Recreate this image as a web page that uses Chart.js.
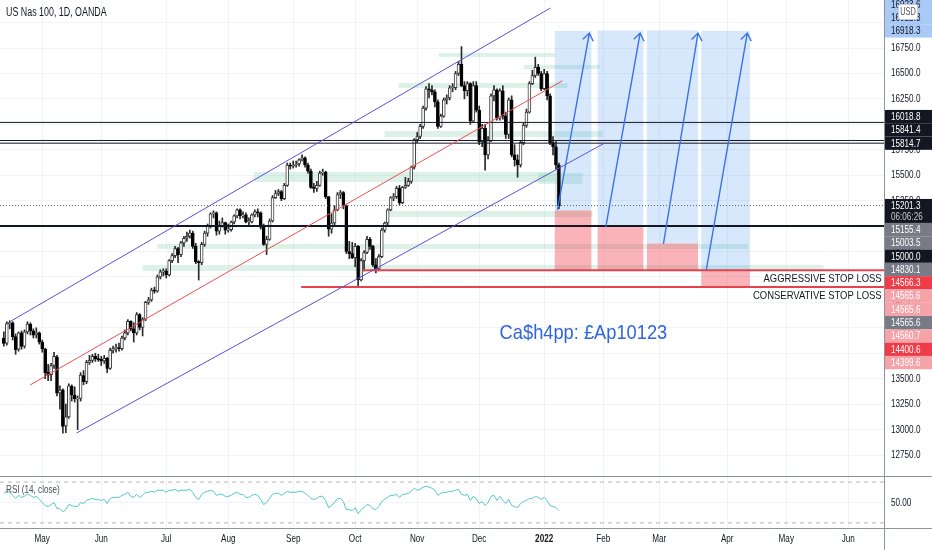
<!DOCTYPE html>
<html>
<head>
<meta charset="utf-8">
<title>US Nas 100, 1D, OANDA</title>
<script src="https://cdn.jsdelivr.net/npm/chart.js@4.4.1/dist/chart.umd.min.js"></script>
<style>
  body { margin: 0; background: #fff; }
  #wrap { width: 932px; height: 550px; }
</style>
</head>
<body>
<div id="wrap"><canvas id="chart" width="932" height="550"></canvas></div>
<script>
// daily bars, 14 Apr 2021 .. 10 Jan 2022 (x = bar number)
var opens = [13900,13850,14040,14050,13915,13790,13950,13820,13960,14035,
  13970,13930,13950,13860,13790,13565,13540,13630,13715,13360,
  13390,13035,13125,13425,13340,13300,13305,13530,13470,13660,
  13680,13720,13695,13690,13675,13700,13600,13780,13795,13800,
  13795,13900,13950,14065,13990,13950,14130,14005,14085,14250,
  14275,14370,14360,14500,14550,14555,14520,14660,14710,14780,
  14720,14835,14880,14900,14930,14800,14650,14640,14820,14930,
  15000,15120,15130,14950,15000,15035,14960,14965,15040,15100,
  15160,15100,15110,15040,15040,15110,15140,15130,14990,14820,
  14870,15050,15280,15320,15340,15270,15400,15600,15590,15600,
  15610,15650,15670,15600,15540,15380,15370,15400,15520,15530,
  15290,14970,15030,15160,15310,15330,15200,14750,14730,14690,
  14800,14470,14660,14740,14870,14800,14620,14580,14700,14960,
  15030,15160,15280,15290,15370,15230,15380,15400,15440,15580,
  15850,15880,15980,16160,16350,16340,16320,16220,15980,16080,
  16240,16260,16360,16360,16500,16590,16380,16330,16400,16030,
  16380,16140,15830,15960,15700,15840,16280,16340,16060,16330,
  16080,15900,16240,15700,15650,15600,15820,15990,16120,16400,
  16480,16560,16500,16350,16500,16280,15820,15780,15600];
var highs = [13960,14060,14070,14060,13940,13960,13970,13980,14060,14050,
  13990,14000,13960,13880,13800,13640,13650,13760,13730,13430,
  13400,13250,13450,13440,13420,13330,13560,13580,13680,13730,
  13740,13750,13740,13720,13730,13710,13800,13820,13840,13850,
  13920,13980,14080,14070,14050,14150,14140,14100,14260,14300,
  14390,14400,14520,14570,14580,14580,14670,14730,14800,14790,
  14850,14900,14940,14960,14950,14830,14660,14840,14950,15020,
  15130,15150,15140,15050,15080,15040,15020,15050,15110,15170,
  15170,15140,15130,15080,15120,15160,15170,15140,15020,14900,
  15070,15300,15350,15360,15350,15420,15620,15620,15640,15640,
  15660,15700,15680,15620,15560,15420,15440,15540,15560,15540,
  15290,15120,15200,15330,15350,15340,15210,14850,14840,14830,
  14810,14680,14760,14900,14890,14810,14680,14720,14980,15040,
  15170,15290,15320,15390,15400,15390,15480,15470,15590,15860,
  15920,16000,16180,16370,16400,16380,16340,16240,16100,16260,
  16290,16380,16400,16520,16620,16764,16420,16420,16410,16420,
  16420,16180,16000,16000,15880,16300,16380,16350,16350,16380,
  16120,16260,16280,15800,15700,15840,16010,16150,16420,16530,
  16660,16590,16520,16540,16520,16300,15880,15830,15620];
var lows = [13820,13830,13990,13880,13740,13770,13790,13800,13940,13930,
  13900,13900,13840,13760,13500,13480,13480,13600,13330,13200,
  12965,12970,13110,13280,13270,13000,13280,13440,13450,13640,
  13660,13670,13670,13630,13650,13560,13590,13750,13760,13770,
  13780,13880,13930,13970,13860,13930,13980,13920,14070,14230,
  14260,14340,14350,14480,14510,14490,14510,14640,14690,14640,
  14700,14800,14850,14880,14780,14630,14470,14620,14800,14900,
  14980,15080,14910,14920,14990,14920,14940,14950,15020,15080,
  15070,15080,15030,15010,15030,15090,15090,14970,14810,14720,
  14860,15040,15270,15300,15250,15260,15390,15560,15570,15580,
  15590,15640,15580,15520,15370,15330,15340,15390,15500,15270,
  14900,14930,15010,15150,15270,15170,14730,14680,14680,14600,
  14400,14460,14560,14730,14770,14600,14540,14560,14690,14940,
  15000,15150,15250,15270,15210,15220,15370,15390,15420,15560,
  15820,15860,15960,16140,16260,16290,16170,15960,15970,16070,
  16200,16240,16320,16340,16480,16370,16250,16280,16000,16020,
  16120,15800,15780,15550,15660,15830,16230,16040,16040,16050,
  15860,15860,15680,15590,15480,15580,15800,15970,16110,16390,
  16460,16480,16330,16340,16240,15800,15700,15560,15170];
var closes = [13846,14041,14052,13914,13786,13950,13818,13960,14038,13969,
  13928,13950,13860,13795,13560,13535,13630,13720,13359,13389,
  13032,13125,13430,13340,13303,13300,13535,13470,13661,13680,
  13720,13696,13687,13673,13700,13600,13780,13795,13800,13795,
  13900,13950,14065,13990,13950,14130,14005,14085,14250,14275,
  14370,14360,14500,14550,14555,14520,14660,14710,14780,14720,
  14835,14880,14900,14930,14800,14650,14640,14820,14930,15000,
  15120,15130,14950,15000,15035,14960,14965,15040,15100,15160,
  15100,15110,15040,15040,15110,15140,15130,14990,14820,14870,
  15050,15280,15320,15340,15270,15400,15600,15590,15600,15610,
  15650,15670,15600,15540,15380,15370,15400,15520,15530,15290,
  14970,15030,15160,15310,15330,15200,14750,14730,14690,14800,
  14470,14660,14740,14870,14800,14620,14580,14700,14960,15030,
  15160,15280,15290,15370,15230,15380,15400,15440,15580,15850,
  15880,15980,16160,16350,16340,16320,16220,15980,16080,16240,
  16260,16360,16360,16500,16590,16380,16330,16400,16030,16380,
  16140,15830,15960,15700,15840,16280,16340,16060,16330,16080,
  15900,16240,15700,15650,15600,15820,15990,16120,16400,16480,
  16560,16500,16350,16500,16280,15820,15780,15600,15201.3];
// RSI (14, close)
var rsi = [59,61,60,57,54,57,55,56,58,57,
  55,56,53,50,47,46,48,50,44,44,
  41,43,48,47,46,46,50,49,52,53,
  54,53,53,52,53,49,54,55,55,55,
  57,58,60,56,55,58,55,57,60,60,
  61,60,62,62,62,60,62,62,63,61,
  62,62,62,63,60,55,53,58,60,61,
  62,61,57,58,58,56,56,57,59,60,
  58,58,55,55,57,58,57,53,48,50,
  54,58,59,59,57,59,61,60,60,60,
  61,61,59,57,54,53,54,56,56,52,
  45,47,50,54,54,51,43,43,42,45,
  39,43,45,48,47,44,43,46,51,53,
  55,57,57,58,55,58,58,59,61,64,
  62,63,65,66,65,64,62,57,59,60,
  60,61,61,62,63,58,57,58,52,56,
  54,49,51,47,50,56,57,52,56,52,
  49,53,47,46,45,49,51,52,54,54,
  56,55,53,55,52,47,46,45,42];

// time axis: bar number of each month's first session
var monthIdx = [13,33,55,76,98,119,140,161,183,203,222,245,265,286];
var monthLbl = ['May','Jun','Jul','Aug','Sep','Oct','Nov','Dec','2022','Feb','Mar','Apr','May','Jun'];
var priceTicks = [12750,13000,13250,13500,13750,14000,14250,14500,14750,15000,15250,15500,15750,16000,16250,16500,16750,17000];
var xMin = -1.3, xMax = 298.1;
var yMin = 12534, yMax = 17222;
var rsiMin = 25, rsiMax = 75, rsiLevels = [70, 30], rsiTicks = [50];

// drawings on the chart
var channelTop = [[2.45,14067],[185.1,17143]];
var channelMid = [[8.9,13438],[189.2,16429]];
var channelLow = [[24.6,12966],[203.5,15816]];
var blackLevels = [16018.8, 15841.4, 15814.7];
var keyLevel = 15000;
var lastPrice = 15201.3;
var countdown = '06:06:26';
var aggressiveStop = [121.7, 14566.3];
var conservativeStop = [100.7, 14400.6];

// long positions: start bar, end bar, entry, stop, target
var posStart = [186.6, 201.1, 217.8, 236.2];
var posEnd = [199.0, 216.6, 235.1, 252.7];
var posEntry = [15155.4, 15003.5, 14830.1, 14565.6];
var posStop = [14565.6, 14565.6, 14560.7, 14399.6];
var posTarget = [16918.3, 16922.3, 16923.6, 16918.3];
var arrowFrom = [[187.5,15158],[203.9,14994],[223.4,14824],[237.9,14568]];
var arrowTo = [[198.3,16897],[215.5,16897],[235.1,16897],[251.8,16897]];

// light green zones: start bar, end bar, low, high
var zoneStart = [147.3,176,133.7,129,84.8,181,130.3,52.1,47];
var zoneEnd = [186.8,201.8,190.9,202.8,186.5,196,199.4,252.1,277.6];
var zoneLow = [16662,16544,16357,15875,15433,15413,15089,14775,14558];
var zoneHigh = [16701,16583,16406,15934,15531,15522,15148,14824,14617];

// text notes
var noteText = 'Ca$h4pp: £Ap10123';
var noteAt = [196.3, 13949];
var stopText = ['AGGRESSIVE STOP LOSS', 'CONSERVATIVE STOP LOSS'];
var stopTextAt = [[297.3,14480],[297.3,14313]];

// price tags on the right scale
var tagPrice = [16923.6,16922.3,16918.3,16018.8,15841.4,15814.7,15201.3,15155.4,15003.5,15000.0,14830.1,14566.3,14565.6,14565.6,14565.6,14560.7,14400.6,14399.6];
var tagKind = ['target','target','target','line','line','line','last','entry','entry','line','entry','stopLine','stop','stop','entry','stop','stopLine','stop'];

var FONT = '"Liberation Sans", Arial, sans-serif';
var SQ = 0.74;   // screenshot text is narrower than the font
var tagColors = {
  target: ['#a9c9f7', '#131722'],
  line: ['#131722', '#ffffff'],
  last: ['#131722', '#ffffff'],
  entry: ['#787b86', '#ffffff'],
  stopLine: ['#f03c48', '#ffffff'],
  stop: ['#f5a3a9', '#ffffff']
};

function seg(points, color, width, dash, axis) {
  return {
    type: 'line',
    data: points.map(function(p) { return {x: p[0], y: p[1]}; }),
    borderColor: color,
    borderWidth: width,
    borderDash: dash || [],
    pointRadius: 0,
    tension: 0,
    yAxisID: axis || 'y',
    order: 0
  };
}

// narrow text: draw with a horizontal squeeze
function text(ctx, str, x, y, sx, align) {
  ctx.save();
  ctx.translate(x, y);
  ctx.scale(sx, 1);
  ctx.textAlign = align || 'left';
  ctx.fillText(str, 0, 0);
  ctx.restore();
}

function layoutTags(ys) {
  var h = 13.3;
  var items = tagPrice.map(function(p, k) {
    return {p: p, k: tagKind[k], c: ys.getPixelForValue(p), h: tagKind[k] == 'last' ? 24 : h};
  });
  var above = items.filter(function(t) { return t.p > lastPrice; }).sort(function(a, b) { return a.p - b.p; });
  var below = items.filter(function(t) { return t.p <= lastPrice; }).sort(function(a, b) { return b.p - a.p; });
  // above the last price the stack grows upward, below it grows downward
  var prevTop = Infinity;
  above.forEach(function(t) {
    var top = t.c - h / 2;
    if (top + t.h > prevTop) top = prevTop - t.h;
    t.top = top; prevTop = top;
  });
  var prevBottom = -Infinity;
  below.forEach(function(t) {
    var top = t.c - h / 2;
    if (top < prevBottom) top = prevBottom;
    t.top = top; prevBottom = top + t.h;
  });
  return above.concat(below);
}

var drawings = {
  id: 'drawings',
  beforeDatasetsDraw: function(chart) {
    var ctx = chart.ctx, xs = chart.scales.x, ys = chart.scales.y, a = chart.chartArea;
    ctx.save();
    ctx.beginPath();
    ctx.rect(a.left, ys.top, a.right - a.left, ys.bottom - ys.top);
    ctx.clip();
    ctx.fillStyle = 'rgba(110,200,165,0.24)';
    for (var k = 0; k < zoneStart.length; k++) {
      var x0 = xs.getPixelForValue(zoneStart[k]), x1 = xs.getPixelForValue(zoneEnd[k]);
      var y0 = ys.getPixelForValue(zoneHigh[k]), y1 = ys.getPixelForValue(zoneLow[k]);
      ctx.fillRect(x0, y0, x1 - x0, y1 - y0);
    }
    for (var j = 0; j < posStart.length; j++) {
      var px0 = xs.getPixelForValue(posStart[j]), px1 = xs.getPixelForValue(posEnd[j]);
      var yt = ys.getPixelForValue(posTarget[j]), ye = ys.getPixelForValue(posEntry[j]), yst = ys.getPixelForValue(posStop[j]);
      ctx.fillStyle = 'rgba(41,130,240,0.18)';
      ctx.fillRect(px0, yt, px1 - px0, ye - yt);
      ctx.fillStyle = 'rgba(242,54,69,0.38)';
      ctx.fillRect(px0, ye, px1 - px0, yst - ye);
    }
    ctx.restore();
  },
  afterDatasetsDraw: function(chart) {
    var ctx = chart.ctx, xs = chart.scales.x, ys = chart.scales.y, a = chart.chartArea;
    ctx.save();
    ctx.beginPath();
    ctx.rect(a.left, ys.top, a.right - a.left, ys.bottom - ys.top);
    ctx.clip();
    // target arrows
    ctx.strokeStyle = '#3b72e6';
    ctx.lineWidth = 1.4;
    for (var k = 0; k < arrowFrom.length; k++) {
      var sx = xs.getPixelForValue(arrowFrom[k][0]), sy = ys.getPixelForValue(arrowFrom[k][1]);
      var tx = xs.getPixelForValue(arrowTo[k][0]), ty = ys.getPixelForValue(arrowTo[k][1]);
      var ang = Math.atan2(ty - sy, tx - sx);
      ctx.beginPath();
      ctx.moveTo(sx, sy); ctx.lineTo(tx, ty);
      ctx.moveTo(tx + 9 * Math.cos(ang + Math.PI - 0.62), ty + 9 * Math.sin(ang + Math.PI - 0.62));
      ctx.lineTo(tx, ty);
      ctx.lineTo(tx + 9 * Math.cos(ang + Math.PI + 0.62), ty + 9 * Math.sin(ang + Math.PI + 0.62));
      ctx.stroke();
    }
    // notes
    ctx.textBaseline = 'middle';
    ctx.fillStyle = '#2f66de';
    ctx.font = '21px ' + FONT;
    text(ctx, noteText, xs.getPixelForValue(noteAt[0]), ys.getPixelForValue(noteAt[1]), 0.87, 'center');
    ctx.fillStyle = '#131722';
    ctx.font = '11px ' + FONT;
    for (var s = 0; s < stopText.length; s++) {
      text(ctx, stopText[s], xs.getPixelForValue(stopTextAt[s][0]), ys.getPixelForValue(stopTextAt[s][1]), 0.86, 'right');
    }
    ctx.restore();
  },
  afterDraw: function(chart) {
    var ctx = chart.ctx, xs = chart.scales.x, ys = chart.scales.y, rs = chart.scales.rsi, W = chart.width, H = chart.height;
    ctx.save();
    ctx.textBaseline = 'middle';
    // scale labels
    ctx.fillStyle = '#131722';
    ctx.font = '11px ' + FONT;
    ys.ticks.forEach(function(t) {
      text(ctx, t.value.toFixed(1), ys.left + 7, ys.getPixelForValue(t.value), SQ, 'left');
    });
    rs.ticks.forEach(function(t) {
      text(ctx, t.value.toFixed(2), rs.left + 7, rs.getPixelForValue(t.value), SQ, 'left');
    });
    xs.ticks.forEach(function(t) {
      var lbl = monthLbl[monthIdx.indexOf(t.value)];
      ctx.font = (lbl == '2022' ? 'bold ' : '') + '11px ' + FONT;
      text(ctx, lbl, xs.getPixelForValue(t.value), xs.top + 11, SQ, 'center');
    });
    // pane separators and price scale border
    ctx.strokeStyle = '#8f939c';
    ctx.lineWidth = 1;
    ctx.beginPath();
    ctx.moveTo(0, Math.round(ys.bottom) - 0.5); ctx.lineTo(W, Math.round(ys.bottom) - 0.5);
    ctx.moveTo(0, Math.round(rs.bottom) + 0.5); ctx.lineTo(W, Math.round(rs.bottom) + 0.5);
    ctx.moveTo(Math.round(ys.left) + 0.5, 0); ctx.lineTo(Math.round(ys.left) + 0.5, H);
    ctx.stroke();
    // price tags
    var tags = layoutTags(ys);
    ctx.font = '11px ' + FONT;
    tags.forEach(function(t) {
      var col = tagColors[t.k];
      ctx.fillStyle = col[0];
      ctx.fillRect(ys.left + 1, t.top, W - ys.left - 1, t.h);
      ctx.fillStyle = col[1];
      text(ctx, t.p.toFixed(1), ys.left + 7, t.top + 7, SQ, 'left');
      if (t.k == 'last') {
        ctx.fillStyle = '#c8cbd3';
        text(ctx, countdown, ys.left + 7, t.top + 18, SQ, 'left');
      }
    });
    // currency badge
    ctx.fillStyle = '#ffffff';
    ctx.strokeStyle = '#c9ccd3';
    ctx.beginPath();
    ctx.roundRect(ys.left + 14.5, 4.5, 19, 15, 2);
    ctx.fill(); ctx.stroke();
    ctx.fillStyle = '#50535e';
    ctx.font = '10px ' + FONT;
    text(ctx, 'USD', ys.left + 24, 12.5, SQ, 'center');
    // pane titles
    ctx.fillStyle = '#131722';
    ctx.font = '12px ' + FONT;
    text(ctx, 'US Nas 100, 1D, OANDA', 6, 13, SQ, 'left');
    ctx.fillStyle = '#4a4e58';
    ctx.font = '11px ' + FONT;
    text(ctx, 'RSI (14, close)', 6, rs.top + 13, SQ, 'left');
    ctx.restore();
  }
};

var up = closes.map(function(c, i) { return c >= opens[i]; });

var datasets = [
  {
    type: 'bar',
    data: highs.map(function(h, i) { return {x: i, y: [lows[i], h]}; }),
    backgroundColor: '#2a2a2a',
    barThickness: 1,
    grouped: false,
    yAxisID: 'y',
    order: 2
  },
  {
    type: 'bar',
    data: opens.map(function(o, i) { return {x: i, y: [o, closes[i]]}; }),
    backgroundColor: up.map(function(u) { return u ? '#ffffff' : '#000000'; }),
    borderColor: up.map(function(u) { return u ? '#3a3a3a' : '#000000'; }),
    borderWidth: 1,
    borderSkipped: false,
    barThickness: 3,
    minBarLength: 1,
    grouped: false,
    yAxisID: 'y',
    order: 1
  },
  seg(channelTop, '#5e50d6', 1),
  seg(channelMid, '#ef4f4f', 1),
  seg(channelLow, '#5e50d6', 1),
  seg([[xMin, lastPrice], [xMax, lastPrice]], '#5d606b', 1, [1, 2]),
  seg([[xMin, keyLevel], [xMax, keyLevel]], '#131722', 2),
  seg([aggressiveStop, [xMax, aggressiveStop[1]]], '#e5434e', 2),
  seg([conservativeStop, [xMax, conservativeStop[1]]], '#e5434e', 2),
  seg([[xMin, rsiLevels[0]], [xMax, rsiLevels[0]]], '#b2b5be', 1, [4, 4], 'rsi'),
  seg([[xMin, rsiLevels[1]], [xMax, rsiLevels[1]]], '#b2b5be', 1, [4, 4], 'rsi'),
  {
    type: 'line',
    data: rsi.map(function(v, i) { return {x: i, y: v}; }),
    borderColor: '#52c7c7',
    borderWidth: 1,
    pointRadius: 0,
    tension: 0,
    yAxisID: 'rsi',
    order: 0
  }
];
blackLevels.forEach(function(p) {
  datasets.push(seg([[xMin, p], [xMax, p]], '#131722', 1));
});

new Chart(document.getElementById('chart'), {
  type: 'bar',
  data: { datasets: datasets },
  options: {
    responsive: false,
    devicePixelRatio: 1,
    animation: false,
    events: [],
    layout: { padding: 0 },
    plugins: { legend: { display: false }, tooltip: { enabled: false } },
    scales: {
      x: {
        type: 'linear',
        position: 'bottom',
        offset: false,
        min: xMin,
        max: xMax,
        afterBuildTicks: function(s) { s.ticks = monthIdx.map(function(v) { return {value: v}; }); },
        afterFit: function(s) { s.height = 22; s.paddingLeft = 0; s.paddingRight = 0; },
        ticks: { display: false },
        grid: { color: '#f0f3fa', drawTicks: false, offset: false },
        border: { display: false }
      },
      y: {
        type: 'linear',
        position: 'right',
        stack: 'pane',
        stackWeight: 9.35,
        min: yMin,
        max: yMax,
        afterBuildTicks: function(s) { s.ticks = priceTicks.map(function(v) { return {value: v}; }); },
        afterFit: function(s) { s.width = 48; s.paddingTop = 0; s.paddingBottom = 0; },
        ticks: { display: false },
        grid: { color: '#f0f3fa', drawTicks: false },
        border: { display: false }
      },
      rsi: {
        type: 'linear',
        position: 'right',
        stack: 'pane',
        stackWeight: 1,
        min: rsiMin,
        max: rsiMax,
        afterBuildTicks: function(s) { s.ticks = rsiTicks.map(function(v) { return {value: v}; }); },
        afterFit: function(s) { s.width = 48; s.paddingTop = 0; s.paddingBottom = 0; },
        ticks: { display: false },
        grid: { color: '#f0f3fa', drawTicks: false },
        border: { display: false }
      }
    }
  },
  plugins: [drawings]
});
</script>
</body>
</html>
